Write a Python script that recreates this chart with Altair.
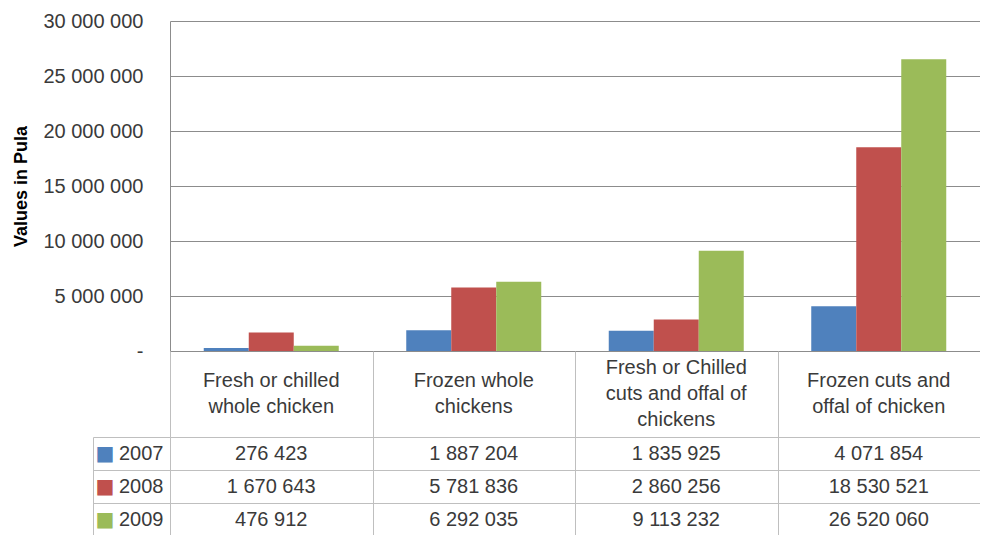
import altair as alt
import pandas as pd

categories = [
    "Fresh or chilled\nwhole chicken",
    "Frozen whole\nchickens",
    "Fresh or Chilled\ncuts and offal of\nchickens",
    "Frozen cuts and\noffal of chicken",
]
years = ["2007", "2008", "2009"]
values_2007 = [276423, 1887204, 1835925, 4071854]
values_2008 = [1670643, 5781836, 2860256, 18530521]
values_2009 = [476912, 6292035, 9113232, 26520060]
colors = ["#4F81BD", "#C0504D", "#9BBB59"]
y_ticks = [0, 5000000, 10000000, 15000000, 20000000, 25000000, 30000000]
y_title = "Values in Pula"

records = []
for year, vals in zip(years, [values_2007, values_2008, values_2009]):
    for cat, v in zip(categories, vals):
        records.append({"category": cat, "year": year, "value": v})
df = pd.DataFrame(records)
hdr = pd.DataFrame({"category": categories})

FONT = "Liberation Sans"
W = 810
GRID = "#8C8C8C"
LINE = "#BFBFBF"
TXT = "#3A3A3A"
FS = 20

band0 = alt.Scale(domain=categories, paddingInner=0, paddingOuter=0)
rowscale = alt.Scale(domain=years, paddingInner=0, paddingOuter=0)

bars = alt.Chart(df).mark_bar().encode(
    x=alt.X("category:N", sort=categories, scale=band0,
            axis=alt.Axis(labels=False, ticks=False, title=None, domain=True,
                          domainColor=GRID, grid=False)),
    xOffset=alt.XOffset("year:N", sort=years,
                        scale=alt.Scale(domain=years, paddingInner=0, paddingOuter=0.75)),
    y=alt.Y("value:Q", scale=alt.Scale(domain=[0, 30000000], nice=False),
            axis=alt.Axis(values=y_ticks, title=y_title,
                          labelExpr="datum.value == 0 ? '-\u00a0\u00a0' : replace(replace(format(datum.value, ','), ',', ' '), ',', ' ')",
                          labelFont=FONT, labelFontSize=FS, labelColor=TXT, labelPadding=27,
                          ticks=False, domain=True, domainColor=GRID,
                          grid=True, gridColor=GRID,
                          titleFont=FONT, titleFontSize=18, titleFontWeight="bold",
                          titleColor="#000000", titlePadding=12)),
    color=alt.Color("year:N", scale=alt.Scale(domain=years, range=colors), legend=None),
).properties(width=W, height=330)

header = alt.Chart(hdr).mark_text(
    font=FONT, fontSize=FS, lineHeight=26, color=TXT, baseline="middle", lineBreak="\n",
    dy=alt.ExprRef(expr="-13 * (length(split(datum.category, '\\n')) - 1)"),
).encode(
    x=alt.X("category:N", sort=categories, scale=band0,
            axis=alt.Axis(labels=False, ticks=False, domain=False, title=None,
                          grid=True, tickBand="extent", gridColor=LINE)),
    text="category:N",
).properties(width=W, height=86)

vals_layer = alt.Chart(df).transform_calculate(
    label="replace(replace(format(datum.value, ','), ',', ' '), ',', ' ')"
).mark_text(font=FONT, fontSize=FS, color=TXT).encode(
    x=alt.X("category:N", sort=categories, scale=band0,
            axis=alt.Axis(labels=False, ticks=False, domain=False, title=None,
                          grid=True, tickBand="extent", gridColor=LINE)),
    y=alt.Y("year:N", sort=years, scale=rowscale,
            axis=alt.Axis(orient="left", title=None, domain=False, ticks=True, tickSize=77,
                          tickColor=LINE, tickBand="extent", grid=True, gridColor=LINE,
                          labelPadding=-70, labelFont=FONT, labelFontSize=FS, labelColor=TXT)),
    text="label:N",
)

sq_layers = []
for i, (yr, col) in enumerate(zip(years, colors)):
    sq_layers.append(
        alt.Chart(df).mark_text(opacity=0).encode(
            y=alt.Y("year:N", sort=years, scale=rowscale,
                    axis=alt.Axis(orient="left", title=None, offset=77, domain=(i == 0),
                                  domainColor=LINE, ticks=False, grid=False,
                                  labelAlign="left", labelPadding=-2,
                                  labelExpr=f"datum.value == '{yr}' ? '■' : ''",
                                  labelColor=col, labelFont="DejaVu Sans", labelFontSize=20)),
            text=alt.value(""),
        )
    )

rows_chart = alt.layer(vals_layer, *sq_layers).resolve_axis(y="independent").properties(
    width=W, height=99)

chart = alt.vconcat(bars, header, rows_chart, spacing=0, bounds="flush").properties(
    padding={"left": 4, "top": 3, "right": 0, "bottom": 0}
).configure_view(stroke=None).configure_concat(spacing=0)

chart.save("out.html", embed_options={"renderer": "svg", "actions": False})
